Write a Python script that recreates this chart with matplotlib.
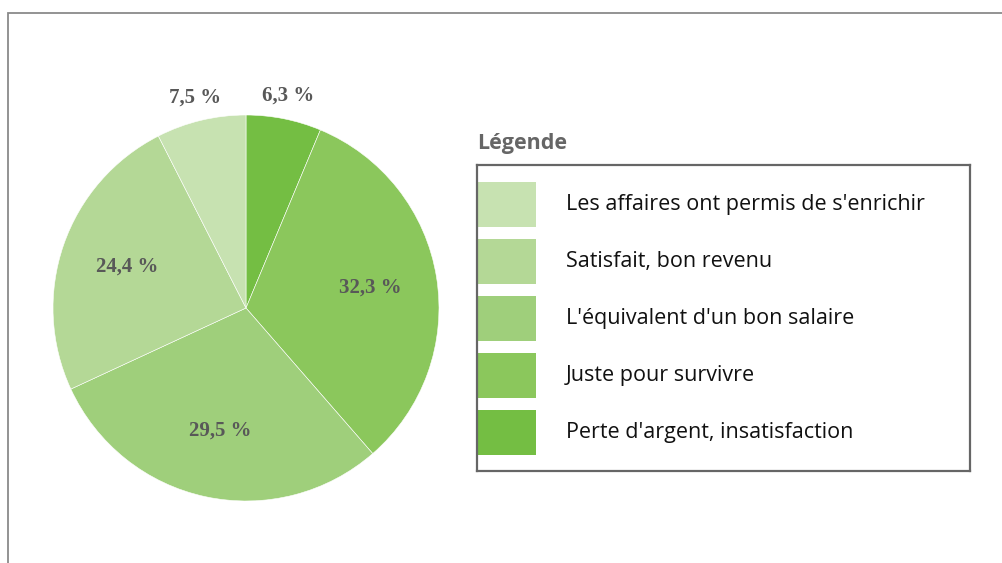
import matplotlib.pyplot as plt
import matplotlib.patches as mpatches
import numpy as np

# pie data, clockwise from 12 o'clock
labels = ["Perte d'argent, insatisfaction", "Juste pour survivre",
          "L'équivalent d'un bon salaire", "Satisfait, bon revenu",
          "Les affaires ont permis de s'enrichir"]
values = [6.3, 32.3, 29.5, 24.4, 7.5]
colors = ["#74BE43", "#8BC75C", "#9FCF7B", "#B4D896", "#C7E2B1"]

W, H = 1003, 563
fig = plt.figure(figsize=(W / 100, H / 100), dpi=100)

# outer frame (only top and left visible)
frame = mpatches.Rectangle((8 / W, -0.2), 1.2, 1 - 13 / H + 0.2, fill=False,
                           edgecolor="#8a8a8a", lw=1.3, transform=fig.transFigure)
fig.add_artist(frame)

# pie
cx, cy, r = 246, 308, 193
ax = fig.add_axes([(cx - r) / W, (H - cy - r) / H, 2 * r / W, 2 * r / H])
wedges, _ = ax.pie(values, colors=colors, startangle=90, counterclock=False,
                   radius=1, wedgeprops=dict(edgecolor="white", lw=0.4))
ax.set_xlim(-1, 1)
ax.set_ylim(-1, 1)
ax.set_aspect("equal")
ax.axis("off")

for w, v in zip(wedges, values):
    ang = np.deg2rad((w.theta1 + w.theta2) / 2)
    d = 1.12 if v < 10 else 0.65
    ax.text(d * np.cos(ang), d * np.sin(ang), f"{v:.1f} %".replace(".", ","),
            ha="center", va="center", fontsize=15, fontweight="bold",
            family="Liberation Serif", color="#585858", clip_on=False)

# legend (listed from last slice to first)
lx0, lx1, ly0, ly1 = 477, 970, 165, 471
lg = fig.add_axes([lx0 / W, (H - ly1) / H, (lx1 - lx0) / W, (ly1 - ly0) / H])
lg.set_xlim(0, lx1 - lx0)
lg.set_ylim(ly1 - ly0, 0)
lg.set_xticks([])
lg.set_yticks([])
for s in lg.spines.values():
    s.set_color("#666666")
    s.set_linewidth(1.6)
for i, (lab, col) in enumerate(zip(labels[::-1], colors[::-1])):
    y0 = 17 + i * 57
    lg.add_patch(mpatches.Rectangle((0, y0), 59, 45, color=col, lw=0))
    lg.text(89, y0 + 22.5, lab, va="center", ha="left", fontsize=15.5,
            family="Open Sans", color="#111111")

fig.text(lx0 / W, 1 - 143 / H, "Légende", ha="left", va="center",
         fontsize=15.5, fontweight="bold", family="Open Sans", color="#666666")

fig.savefig("out.png", dpi=100)
